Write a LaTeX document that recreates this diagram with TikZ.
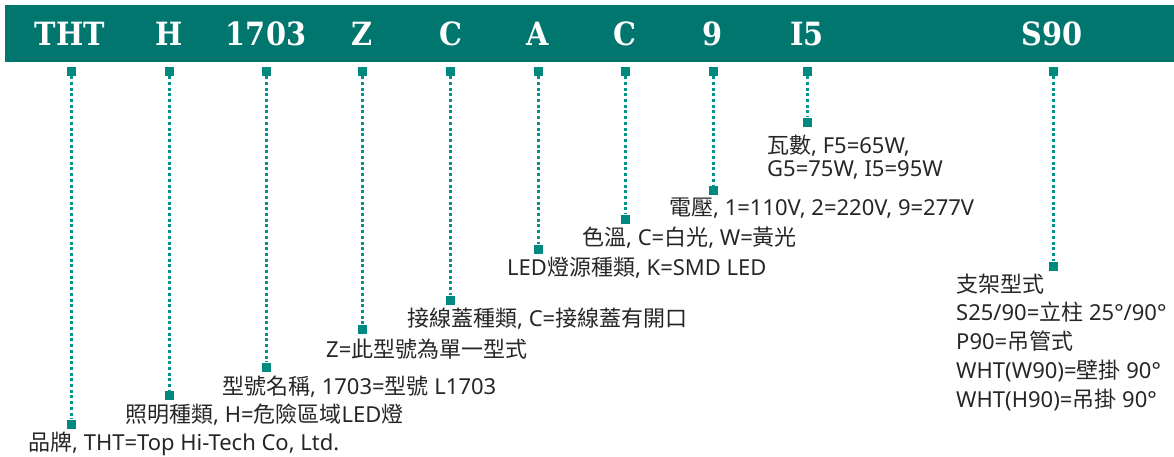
\documentclass[tikz,border=0pt]{standalone}
\usepackage{fontspec}
\setmainfont{Noto Sans}
\newfontfamily\cjkfont{Noto Sans CJK TC}
\newfontfamily\codefont[FakeStretch=0.9]{DejaVu Serif}
\newcommand{\cjktext}[1]{{\cjkfont #1}}
\usetikzlibrary{positioning}

\definecolor{barcol}{RGB}{0,118,110}
\definecolor{tagcol}{RGB}{0,137,127}
\definecolor{dotcol}{RGB}{0,150,140}
\definecolor{textcol}{RGB}{38,38,38}

\begin{document}
\begin{tikzpicture}[x=1pt, y=-1pt,
  code/.style={font=\codefont\bfseries\fontsize{32}{32}\selectfont, text=white, inner sep=0pt},
  tag/.style={fill=tagcol, minimum size=9pt, inner sep=0pt},
  lead/.style={draw=dotcol, line width=3pt, dash pattern=on 3pt off 2.7pt},
  desc/.style={font=\fontsize{22}{29}\selectfont, text=textcol, inner sep=0pt, anchor=base west, align=left}]

\useasboundingbox (0,0) rectangle (1174,456);

% Code bar
\fill[barcol] (5,5) rectangle (1174,62);
\node[code] (tht) at (70,34) {THT};
\node[code] (h) at (169,34) {H};
\node[code] (num) at (266,34) {1703};
\node[code] (z) at (362,34) {Z};
\node[code] (cover) at (451,34) {C};
\node[code] (led) at (538,34) {A};
\node[code] (cct) at (625,34) {C};
\node[code] (volt) at (713,34) {9};
\node[code] (watt) at (807,34) {I5};
\node[code] (mount) at (1052,34) {S90};

% Top tags
\node[tag] (tht_top) at (71.5,71.5) {};
\node[tag] (h_top) at (169.5,71.5) {};
\node[tag] (num_top) at (266.5,71.5) {};
\node[tag] (z_top) at (362.5,71.5) {};
\node[tag] (cover_top) at (450.5,71.5) {};
\node[tag] (led_top) at (538.5,71.5) {};
\node[tag] (cct_top) at (625.5,71.5) {};
\node[tag] (volt_top) at (713.5,71.5) {};
\node[tag] (watt_top) at (807.5,71.5) {};
\node[tag] (mount_top) at (1053.5,71.5) {};

% Bottom tags
\node[tag] (tht_bot) at (71.5,424) {};
\node[tag] (h_bot) at (169.5,395.5) {};
\node[tag] (num_bot) at (266.5,367) {};
\node[tag] (z_bot) at (362.5,329) {};
\node[tag] (cover_bot) at (450.5,300) {};
\node[tag] (led_bot) at (538.5,249) {};
\node[tag] (cct_bot) at (625.5,219) {};
\node[tag] (volt_bot) at (713.5,190) {};
\node[tag] (watt_bot) at (807.5,122) {};
\node[tag] (mount_bot) at (1053.5,266) {};

% Leads
\draw[lead] (tht_top.south) -- (tht_bot.north);
\draw[lead] (h_top.south) -- (h_bot.north);
\draw[lead] (num_top.south) -- (num_bot.north);
\draw[lead] (z_top.south) -- (z_bot.north);
\draw[lead] (cover_top.south) -- (cover_bot.north);
\draw[lead] (led_top.south) -- (led_bot.north);
\draw[lead] (cct_top.south) -- (cct_bot.north);
\draw[lead] (volt_top.south) -- (volt_bot.north);
\draw[lead] (watt_top.south) -- (watt_bot.north);
\draw[lead] (mount_top.south) -- (mount_bot.north);

% Descriptions (base = last line)
\node[desc] (tht_txt) at (28,450) {\cjktext{品牌}, THT=Top Hi-Tech Co, Ltd.};
\node[desc] (h_txt) at (125,422) {\cjktext{照明種類}, H=\cjktext{危險區域}LED\cjktext{燈}};
\node[desc] (num_txt) at (222,394) {\cjktext{型號名稱}, 1703=\cjktext{型號} L1703};
\node[desc] (z_txt) at (326,357) {Z=\cjktext{此型號為單一型式}};
\node[desc] (cover_txt) at (407,326) {\cjktext{接線蓋種類}, C=\cjktext{接線蓋有開口}};
\node[desc] (led_txt) at (507,275) {LED\cjktext{燈源種類}, K=SMD LED};
\node[desc] (cct_txt) at (582,245) {\cjktext{色溫}, C=\cjktext{白光}, W=\cjktext{黃光}};
\node[desc] (volt_txt) at (669,215) {\cjktext{電壓}, 1=110V, 2=220V, 9=277V};
\node[desc, font=\fontsize{22}{23}\selectfont] (watt_txt) at (767,176) {\cjktext{瓦數}, F5=65W,\\G5=75W, I5=95W};
\node[desc, font=\fontsize{22}{28.75}\selectfont] (mount_txt) at (956,407) {\cjktext{支架型式}\\S25/90=\cjktext{立柱} 25°/90°\\P90=\cjktext{吊管式}\\WHT(W90)=\cjktext{壁掛} 90°\\WHT(H90)=\cjktext{吊掛} 90°};

\end{tikzpicture}
\end{document}
